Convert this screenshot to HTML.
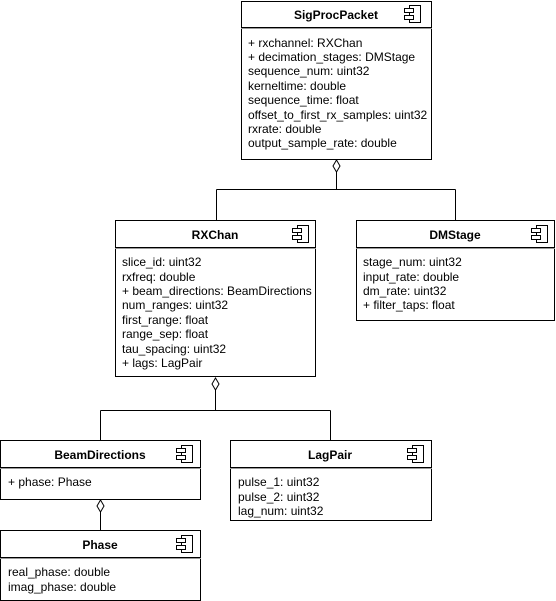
<!DOCTYPE html>
<html><head><style>
html,body{margin:0;padding:0;background:#fff;}
svg{display:block;}
text{font-family:"Liberation Sans",sans-serif;font-size:12px;fill:#000;}
.t{font-weight:bold;text-anchor:middle;}
</style></head><body>
<svg width="556" height="601" viewBox="0 0 556 601" xmlns="http://www.w3.org/2000/svg">
<defs>
<g id="ic" fill="#fff" stroke="#000" stroke-width="1">
<rect x="5" y="0" width="11" height="17"/>
<rect x="0" y="3" width="9" height="4"/>
<rect x="0" y="10" width="9" height="4"/>
</g>
</defs>
<g fill="none" stroke="#000" stroke-width="1">
<!-- connectors -->
<path d="M336.5 172 V189.5 M216.5 189.5 H455.5 M216.5 189.5 V220 M455.5 189.5 V220"/>
<path d="M215.5 390 V410.5 M100.5 410.5 H330.5 M100.5 410.5 V440 M330.5 410.5 V440"/>
<path d="M100.5 512 V530"/>
</g>
<g fill="#fff" stroke="#000" stroke-width="1">
<path d="M336.5 160 L340 166 L336.5 172 L333 166 Z"/>
<path d="M215.5 378 L219 384 L215.5 390 L212 384 Z"/>
<path d="M100.5 500 L104 506 L100.5 512 L97 506 Z"/>
</g>
<!-- boxes -->
<g fill="#fff" stroke="#000" stroke-width="1">
<rect x="241.5" y="1.5" width="190" height="158"/>
<rect x="115.5" y="220.5" width="200" height="156"/>
<rect x="356.5" y="220.5" width="198" height="100"/>
<rect x="0.5" y="440.5" width="200" height="59"/>
<rect x="230.5" y="440.5" width="201" height="80"/>
<rect x="0.5" y="530.5" width="200" height="70"/>
</g>
<g stroke="#000" stroke-width="1">
<line x1="241" y1="27.5" x2="432" y2="27.5"/>
<line x1="115" y1="247.5" x2="316" y2="247.5"/>
<line x1="356" y1="247.5" x2="555" y2="247.5"/>
<line x1="0" y1="467.5" x2="201" y2="467.5"/>
<line x1="230" y1="467.5" x2="432" y2="467.5"/>
<line x1="0" y1="557.5" x2="201" y2="557.5"/>
</g>
<g stroke="#999" stroke-width="1">
<line x1="241" y1="28.5" x2="432" y2="28.5"/>
<line x1="115" y1="248.5" x2="316" y2="248.5"/>
<line x1="356" y1="248.5" x2="555" y2="248.5"/>
<line x1="0" y1="468.5" x2="201" y2="468.5"/>
<line x1="230" y1="468.5" x2="432" y2="468.5"/>
<line x1="0" y1="558.5" x2="201" y2="558.5"/>
</g>
<use href="#ic" x="404.5" y="5.5"/>
<use href="#ic" x="292.5" y="225.5"/>
<use href="#ic" x="531.5" y="225.5"/>
<use href="#ic" x="176.5" y="445.5"/>
<use href="#ic" x="407.5" y="445.5"/>
<use href="#ic" x="176.5" y="535.5"/>
<!-- titles -->
<text class="t" x="336" y="19">SigProcPacket</text>
<text class="t" x="215" y="239">RXChan</text>
<text class="t" x="455" y="239">DMStage</text>
<text class="t" x="100" y="459">BeamDirections</text>
<text class="t" x="330" y="459">LagPair</text>
<text class="t" x="100" y="549">Phase</text>
<!-- attributes -->
<text x="248" y="47">+ rxchannel: RXChan</text>
<text x="248" y="61">+ decimation_stages: DMStage</text>
<text x="248" y="75">sequence_num: uint32</text>
<text x="248" y="90">kerneltime: double</text>
<text x="248" y="104">sequence_time: float</text>
<text x="248" y="119">offset_to_first_rx_samples: uint32</text>
<text x="248" y="133">rxrate: double</text>
<text x="248" y="147">output_sample_rate: double</text>

<text x="122" y="266">slice_id: uint32</text>
<text x="122" y="281">rxfreq: double</text>
<text x="122" y="295">+ beam_directions: BeamDirections</text>
<text x="122" y="309">num_ranges: uint32</text>
<text x="122" y="324">first_range: float</text>
<text x="122" y="338">range_sep: float</text>
<text x="122" y="353">tau_spacing: uint32</text>
<text x="122" y="367">+ lags: LagPair</text>

<text x="363" y="266">stage_num: uint32</text>
<text x="363" y="281">input_rate: double</text>
<text x="363" y="295">dm_rate: uint32</text>
<text x="363" y="309">+ filter_taps: float</text>

<text x="8" y="486">+ phase: Phase</text>

<text x="238" y="486">pulse_1: uint32</text>
<text x="238" y="501">pulse_2: uint32</text>
<text x="238" y="515">lag_num: uint32</text>

<text x="8" y="576">real_phase: double</text>
<text x="8" y="591">imag_phase: double</text>
</svg>
</body></html>
